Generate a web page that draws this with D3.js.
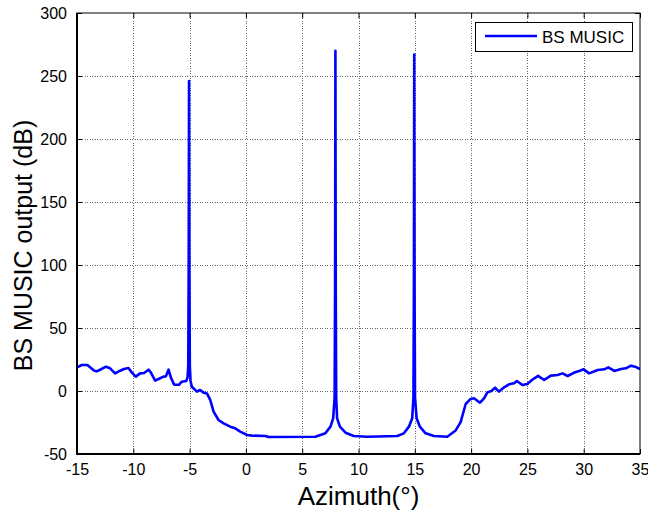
<!DOCTYPE html>
<html>
<head>
<meta charset="utf-8">
<script src="https://cdn.jsdelivr.net/npm/d3@7/dist/d3.min.js"></script>
<style>
  html, body { margin: 0; padding: 0; background: #fff; }
  svg { display: block; font-family: "Liberation Sans", Arial, sans-serif; }
</style>
</head>
<body>
<svg id="chart" width="648" height="513"></svg>
<script>
// Spatial spectrum (BS MUSIC) versus azimuth
const azimuth = [
  -15, -14.58, -14.08, -13.84, -13.46, -13.25, -12.95, -12.42, -12.06, -11.62,
  -11.17, -10.82, -10.43, -10.14, -9.78, -9.40, -9.04, -8.65, -8.45, -8.06,
  -7.62, -7.32, -7.11, -6.87, -6.67, -6.37, -5.93, -5.69, -5.30, -5.18,
  -5.12, -5.08, -5.05, -5.02, -4.98, -4.92, -4.80, -4.35, -4.06, -3.76,
  -3.46, -3.17, -2.87, -2.43, -1.98, -1.39, -0.95, -0.50, 0.10, 0.54,
  1.73, 2.02, 6.17, 6.62, 7.06, 7.51, 7.75, 7.88, 7.92, 7.95,
  7.98, 8.02, 8.10, 8.35, 8.85, 9.58, 10.77, 13.44, 14.03, 14.48,
  14.77, 14.88, 14.92, 14.95, 14.98, 15.02, 15.16, 15.45, 15.96, 16.70,
  17.88, 18.63, 19.07, 19.52, 19.96, 20.26, 20.79, 21.15, 21.45, 21.80,
  22.13, 22.48, 22.93, 23.37, 23.82, 24.06, 24.56, 25.00, 25.40, 25.95,
  26.49, 27.08, 27.68, 28.12, 28.57, 29.16, 29.60, 29.99, 30.49, 31.24,
  31.83, 32.18, 32.72, 33.31, 33.75, 34.20, 34.56, 35.00
];
const output = [
  18.8, 20.6, 20.6, 18.8, 16.1, 15.6, 16.9, 19.3, 18.0, 14.0,
  16.1, 17.5, 18.3, 14.8, 11.4, 14.0, 14.3, 16.9, 14.8, 8.2,
  10.1, 11.4, 11.6, 16.9, 10.8, 5.0, 5.0, 7.4, 7.9, 10.8,
  20, 100, 246, 100, 20, 8.2, 3.4, -0.5, 0.8, -1.3,
  -1.9, -7.1, -16.4, -23.0, -25.7, -28.3, -29.6, -32.3, -34.9, -35.4,
  -35.7, -36.5, -36.3, -34.9, -33.6, -28.3, -21.7, -5, 80, 270,
  80, -5, -21.7, -28.3, -33.1, -35.7, -36.3, -35.7, -33.6, -28.3,
  -21.7, -5, 80, 267, 80, -5, -21.7, -28.3, -33.6, -35.7,
  -36.3, -31.3, -24.7, -10.3, -6.3, -5.8, -9.3, -5.8, -1.1, 0.0,
  2.6, -0.5, 2.9, 5.3, 6.1, 7.9, 4.8, 5.6, 8.7, 12.0,
  8.7, 12.2, 12.7, 14.0, 11.9, 14.6, 15.9, 17.2, 14.0, 16.7,
  17.2, 18.8, 15.9, 17.5, 18.0, 20.1, 19.3, 17.5
];
const xTicks = [-15, -10, -5, 0, 5, 10, 15, 20, 25, 30, 35];
const yTicks = [-50, 0, 50, 100, 150, 200, 250, 300];
const seriesName = "BS MUSIC";

const svg = d3.select("#chart");
const plotL = 77, plotR = 640, plotT = 13, plotB = 454;

const x = d3.scaleLinear().domain([-15, 35]).range([plotL, plotR]);
const y = d3.scaleLinear().domain([-50, 300]).range([plotB, plotT]);

// dotted grid
const grid = svg.append("g").attr("stroke", "#666").attr("stroke-width", 1)
  .attr("stroke-dasharray", "1,1.5").attr("shape-rendering", "crispEdges");
grid.selectAll("line.gx").data(xTicks.slice(1, -1)).join("line")
  .attr("x1", d => Math.round(x(d)) + 0.5).attr("x2", d => Math.round(x(d)) + 0.5)
  .attr("y1", plotT).attr("y2", plotB);
grid.selectAll("line.gy").data(yTicks.slice(1, -1)).join("line")
  .attr("y1", d => Math.round(y(d)) + 0.5).attr("y2", d => Math.round(y(d)) + 0.5)
  .attr("x1", plotL).attr("x2", plotR);

// inward ticks on all four sides; labels use a plain hyphen for negatives
const tickLen = 5;
const plain = d => String(d);
const axisStyle = g => {
  g.select(".domain").remove();
  g.selectAll(".tick line").attr("stroke", "#000");
  g.selectAll(".tick text").attr("fill", "#000").style("font-size", "16px")
    .style("font-family", "'Liberation Sans', Arial, sans-serif");
};
svg.append("g").attr("transform", `translate(0,${plotB})`)
  .call(d3.axisBottom(x).tickValues(xTicks).tickFormat(plain)
    .tickSizeInner(-tickLen).tickSizeOuter(0).tickPadding(10))
  .call(axisStyle);
svg.append("g").attr("transform", `translate(0,${plotT})`)
  .call(d3.axisTop(x).tickValues(xTicks).tickFormat("").tickSizeInner(-tickLen).tickSizeOuter(0))
  .call(axisStyle);
svg.append("g").attr("transform", `translate(${plotL},0)`)
  .call(d3.axisLeft(y).tickValues(yTicks).tickFormat(plain)
    .tickSizeInner(-tickLen).tickSizeOuter(0).tickPadding(10))
  .call(axisStyle);
svg.append("g").attr("transform", `translate(${plotR},0)`)
  .call(d3.axisRight(y).tickValues(yTicks).tickFormat("").tickSizeInner(-tickLen).tickSizeOuter(0))
  .call(axisStyle);

// spectrum curve
const points = azimuth.map((a, i) => [a, output[i]]);
svg.append("path")
  .datum(points)
  .attr("fill", "none")
  .attr("stroke", "#0000ff")
  .attr("stroke-width", 2.6)
  .attr("stroke-linejoin", "round")
  .attr("d", d3.line().x(d => x(d[0])).y(d => y(d[1])));

// plot frame
svg.append("rect").attr("x", plotL).attr("y", plotT)
  .attr("width", plotR - plotL).attr("height", plotB - plotT)
  .attr("fill", "none").attr("stroke", "#000").attr("stroke-width", 1);
svg.append("line").attr("x1", plotL).attr("x2", plotL).attr("y1", plotT).attr("y2", plotB + 1)
  .attr("stroke", "#000").attr("stroke-width", 2);
svg.append("line").attr("x1", plotL - 1).attr("x2", plotR).attr("y1", plotB).attr("y2", plotB)
  .attr("stroke", "#000").attr("stroke-width", 2);

// legend
const lg = svg.append("g");
lg.append("rect").attr("x", 475.5).attr("y", 22.5).attr("width", 157).attr("height", 29)
  .attr("fill", "#fff").attr("stroke", "#000").attr("stroke-width", 1);
lg.append("line").attr("x1", 485).attr("x2", 537).attr("y1", 36).attr("y2", 36)
  .attr("stroke", "#0000ff").attr("stroke-width", 2.6);
lg.append("text").attr("x", 542).attr("y", 42.5).text(seriesName)
  .style("font-size", "17px").attr("fill", "#000");

// axis titles
svg.append("text").attr("x", (plotL + plotR) / 2).attr("y", 505)
  .attr("text-anchor", "middle").style("font-size", "26px").text("Azimuth(°)");
svg.append("text")
  .attr("transform", `translate(32,${(plotT + plotB) / 2 + 12}) rotate(-90)`)
  .attr("text-anchor", "middle").style("font-size", "25px").text("BS MUSIC output (dB)");
</script>
</body>
</html>
